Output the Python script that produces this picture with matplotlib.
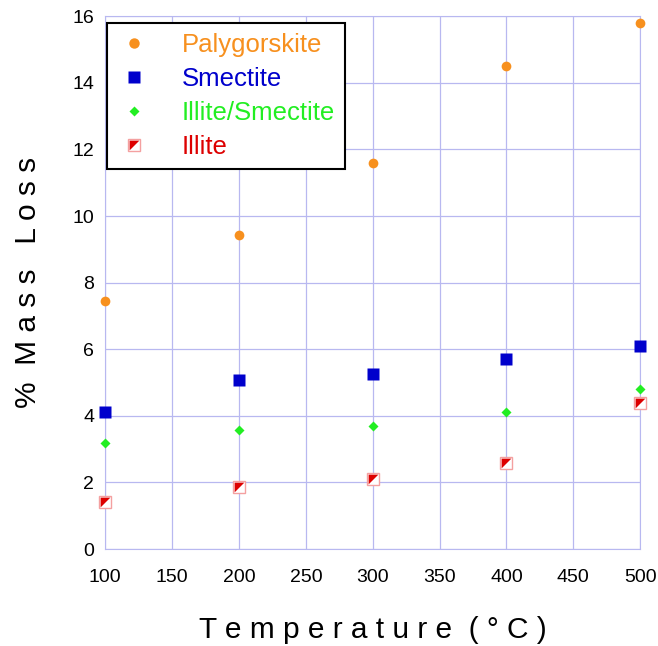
import matplotlib.pyplot as plt
from matplotlib.legend_handler import HandlerTuple

plt.rcParams['font.family'] = ['Liberation Sans', 'DejaVu Sans']

temps = [100, 200, 300, 400, 500]
palygorskite = [7.44, 9.43, 11.59, 14.5, 15.8]
smectite = [4.11, 5.07, 5.25, 5.7, 6.09]
illite_smectite = [3.18, 3.57, 3.69, 4.11, 4.8]
illite = [1.41, 1.86, 2.1, 2.58, 4.38]

grid_col = '#b8b8f0'
tri = [(-1, -1), (-1, 1), (1, 1), (-1, -1)]

fig = plt.figure(figsize=(6.58, 6.46), dpi=100)
ax = fig.add_axes([0.16, 0.150, 0.813, 0.825])

ax.plot(temps, palygorskite, 'o', color='#f7901e', ms=7, mec='none', zorder=3, clip_on=False)
ax.plot(temps, smectite, 's', color='#0000cc', ms=8, mec='none', zorder=3, clip_on=False)
ax.plot(temps, illite_smectite, 'D', color='#22ee22', ms=5.5, mec='none', zorder=3, clip_on=False)
sq, = ax.plot(temps, illite, 's', color='white', ms=8, mec='#f4a0a0', mew=1, zorder=3, clip_on=False)
tr, = ax.plot(temps, illite, marker=tri, ls='none', color='#dd0000', ms=7, mec='none', zorder=4, clip_on=False)

ax.set_xlim(100, 500)
ax.set_ylim(0, 16)
ax.set_xticks(range(100, 501, 50))
ax.set_yticks(range(0, 17, 2))
ax.grid(True, color=grid_col, lw=0.9)
ax.set_axisbelow(True)
for s in ax.spines.values():
    s.set_color(grid_col)
ax.tick_params(length=0, labelsize=14, pad=8, colors='black')
ax.tick_params(axis='x', pad=14)

ax.set_xlabel('T e m p e r a t u r e  ( ° C )', fontsize=21.5, labelpad=22)
ax.set_ylabel('%  M a s s   L o s s', fontsize=21.5, labelpad=22)

h1, = ax.plot([], [], 'o', color='#f7901e', ms=7.5, mec='none')
h2, = ax.plot([], [], 's', color='#0000cc', ms=8, mec='none')
h3, = ax.plot([], [], 'D', color='#22ee22', ms=5.5, mec='none')
leg = ax.legend([h1, h2, h3, (sq, tr)],
                ['Palygorskite', 'Smectite', 'Illite/Smectite', 'Illite'],
                handler_map={tuple: HandlerTuple(ndivide=1)},
                loc='upper left', bbox_to_anchor=(0.003, 0.987), fontsize=18.5,
                fancybox=False, framealpha=1, edgecolor='black',
                handlelength=1.3, handletextpad=1.2, borderpad=0.4,
                labelspacing=0.38, borderaxespad=0)
leg.get_frame().set_linewidth(1.5)
for t, c in zip(leg.get_texts(), ['#f7901e', '#0000cc', '#22ee22', '#dd0000']):
    t.set_color(c)

fig.savefig('out.png', dpi=100)
